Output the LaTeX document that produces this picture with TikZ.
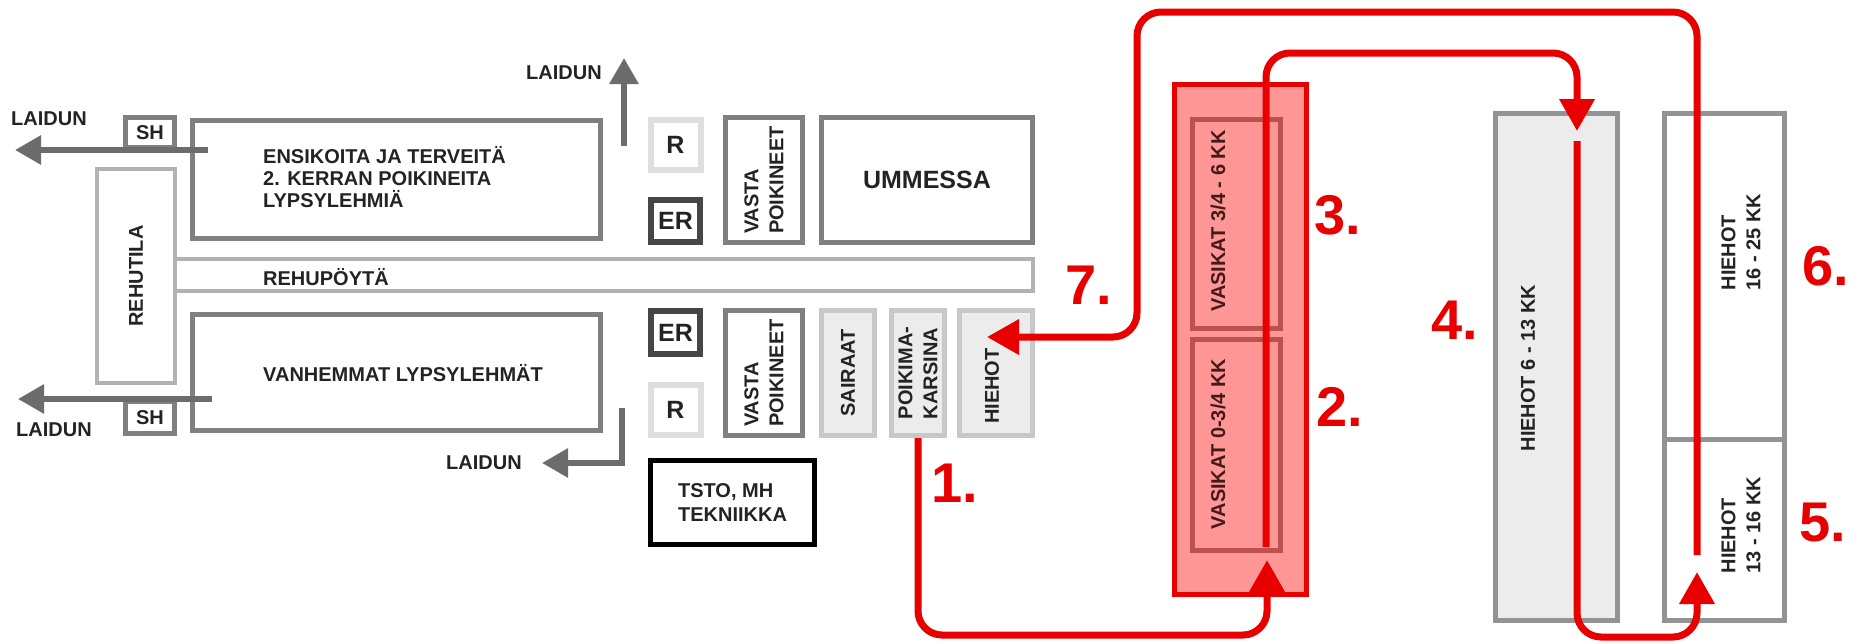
\documentclass[tikz,border=0pt]{standalone}
\usepackage{fontspec}
\setmainfont{Liberation Sans}
\usetikzlibrary{arrows.meta,positioning}

\definecolor{ink}{RGB}{35,35,35}
\definecolor{wallgray}{RGB}{128,128,128}
\definecolor{feedgray}{RGB}{178,178,178}
\definecolor{palegray}{RGB}{222,222,222}
\definecolor{ergray}{RGB}{70,70,70}
\definecolor{pengray}{RGB}{200,200,200}
\definecolor{penfill}{RGB}{236,236,236}
\definecolor{arrowgray}{RGB}{108,108,108}
\definecolor{routered}{RGB}{232,0,0}
\definecolor{calffill}{RGB}{255,150,150}
\definecolor{calfwall}{RGB}{190,80,80}
\definecolor{calfink}{RGB}{70,25,25}

\tikzstyle{wall} = [rectangle, draw=wallgray, line width=5pt, inner sep=0pt, text=ink, align=left, font=\bfseries\fontsize{20}{25}\selectfont]
\tikzstyle{feed} = [rectangle, draw=feedgray, line width=4pt, inner sep=0pt, text=ink, font=\bfseries\fontsize{20}{22}\selectfont]
\tikzstyle{rbox} = [rectangle, draw=palegray, line width=6pt, inner sep=0pt, text=ink, font=\bfseries\fontsize{25}{28}\selectfont]
\tikzstyle{erbox} = [rbox, draw=ergray]
\tikzstyle{sick} = [wall, draw=pengray, fill=penfill]
\tikzstyle{calf} = [rectangle, draw=calfwall, line width=5pt, inner sep=0pt]
\tikzstyle{txt} = [inner sep=0pt, text=ink, align=left, font=\bfseries\fontsize{20}{22}\selectfont]
\tikzstyle{calftxt} = [inner sep=0pt, text=calfink, align=left, font=\bfseries\fontsize{20}{25}\selectfont]
\tikzstyle{num} = [inner sep=0pt, text=routered, font=\bfseries\fontsize{56}{60}\selectfont]
\tikzstyle{exit} = [draw=arrowgray, line width=6pt, -{Triangle[length=26pt,width=28pt]}]
\tikzstyle{route} = [draw=routered, line width=7pt, rounded corners=24pt, -{Triangle[length=32pt,width=34pt]}]

\begin{document}
\begin{tikzpicture}[x=1pt, y=-1pt]
    \useasboundingbox (0,0) rectangle (1866,643);

    % navetta
    \node (cows1) [wall, minimum width=408pt, minimum height=118pt] at (396.5,179.5) {};
    \node (cows1txt) [txt, anchor=west] at (263,177) {ENSIKOITA JA TERVEITÄ\\2. KERRAN POIKINEITA\\LYPSYLEHMIÄ};
    \node (cows2) [wall, minimum width=408pt, minimum height=116pt] at (396.5,372.5) {};
    \node (cows2txt) [txt, anchor=west] at (263,373) {VANHEMMAT LYPSYLEHMÄT};
    \node (sh1) [wall, minimum width=49pt, minimum height=30pt] at (150,132.5) {SH};
    \node (sh2) [wall, minimum width=49pt, minimum height=32pt] at (150,417.5) {SH};
    \node (feedroom) [feed, rotate=90, minimum width=214pt, minimum height=78pt] at (136,276) {REHUTILA};
    \node (feedtable) [feed, minimum width=858pt, minimum height=32pt] at (604,275) {};
    \node (feedtxt) [txt, anchor=west] at (263,277) {REHUPÖYTÄ};

    \node (rtop) [rbox, minimum width=50pt, minimum height=50pt] at (675.5,144.5) {R};
    \node (ertop) [erbox, minimum width=49pt, minimum height=42pt] at (675.5,221) {ER};
    \node (vasta1) [wall, rotate=90, minimum width=125pt, minimum height=77pt] at (764,180) {VASTA\\POIKINEET};
    \node (dry) [wall, minimum width=211pt, minimum height=125pt, font=\bfseries\fontsize{25}{28}\selectfont] at (927,180) {UMMESSA};
    \node (erbot) [erbox, minimum width=49pt, minimum height=43pt] at (675.5,332.5) {ER};
    \node (rbot) [rbox, minimum width=50pt, minimum height=50pt] at (675.5,409.5) {R};
    \node (vasta2) [wall, rotate=90, minimum width=125pt, minimum height=77pt] at (764,373) {VASTA\\POIKINEET};
    \node (sairaat) [sick, rotate=90, minimum width=125pt, minimum height=53pt] at (848,373) {SAIRAAT};
    \node (poik) [sick, rotate=90, minimum width=125pt, minimum height=53pt] at (918,373) {POIKIMA-\\KARSINA};
    \node (hiehot0) [sick, rotate=90, minimum width=125pt, minimum height=73pt] at (996,373) {};
    \node (hiehot0txt) [txt, rotate=90] at (992,386) {HIEHOT};
    \node (office) [wall, draw=black, minimum width=164pt, minimum height=84pt, font=\bfseries\fontsize{20}{24}\selectfont] at (732.5,502.5) {TSTO, MH\\TEKNIIKKA};

    % laitumelle
    \node (laidun1) [txt] at (49,119) {LAIDUN};
    \node (laidun2) [txt] at (54,430) {LAIDUN};
    \node (laidun3) [txt] at (564,73) {LAIDUN};
    \node (laidun4) [txt] at (484,463) {LAIDUN};
    \coordinate (out1) at (208,150);
    \coordinate (end1) at (15,150);
    \coordinate (out2) at (212,399);
    \coordinate (end2) at (18,399);
    \coordinate (out3) at (624,146);
    \coordinate (end3) at (624,58);
    \coordinate (out4) at (622,408);
    \coordinate (end4) at (542,463);
    \draw [exit] (out1) -- (end1);
    \draw [exit] (out2) -- (end2);
    \draw [exit] (out3) -- (end3);
    \draw [exit] (out4) |- (end4);

    % vasikat ja hiehot
    \node (calves) [rectangle, draw=routered, fill=calffill, line width=5pt, minimum width=132pt, minimum height=510pt] at (1240.5,339.5) {};
    \node (calf2) [calf, minimum width=88pt, minimum height=209pt] at (1236.5,224) {};
    \node (calf1) [calf, minimum width=88pt, minimum height=211pt] at (1236.5,445) {};
    \node (calf2txt) [calftxt, rotate=90] at (1218,221) {VASIKAT 3/4 - 6 KK};
    \node (calf1txt) [calftxt, rotate=90] at (1218,444) {VASIKAT 0-3/4 KK};
    \node (heifer1) [wall, fill=penfill, draw=wallgray!85, minimum width=122pt, minimum height=507pt] at (1556.5,367) {};
    \node (heifer1txt) [txt, rotate=90] at (1528,368) {HIEHOT 6 - 13 KK};
    \node (heifer3) [wall, draw=wallgray!85, minimum width=120pt, minimum height=325.5pt] at (1724.5,276.25) {};
    \node (heifer2) [wall, draw=wallgray!85, minimum width=120pt, minimum height=181.5pt] at (1724.5,529.75) {};
    \node (heifer3txt) [txt, rotate=90, font=\bfseries\fontsize{20}{25}\selectfont] at (1741,242) {HIEHOT\\16 - 25 KK};
    \node (heifer2txt) [txt, rotate=90, font=\bfseries\fontsize{20}{25}\selectfont] at (1741,525) {HIEHOT\\13 - 16 KK};

    \node (n1) [num] at (955,483) {1.};
    \node (n2) [num] at (1340,407) {2.};
    \node (n3) [num] at (1338,215) {3.};
    \node (n4) [num] at (1455,320) {4.};
    \node (n5) [num] at (1823,523) {5.};
    \node (n6) [num] at (1826,266) {6.};
    \node (n7) [num] at (1089,285) {7.};

    % eläinten reitti
    \coordinate (in1) at (1267,560);
    \coordinate (from2) at (1266,547);
    \coordinate (in4) at (1577,131);
    \coordinate (from4) at (1577,141);
    \coordinate (in5) at (1697,572);
    \coordinate (from5) at (1697,555);
    \coordinate (in7) at (987,337);
    \draw [route] (poik.west) |- (1267,635) -- (in1);
    \draw [route] (from2) |- (1577,53) -- (in4);
    \draw [route] (from4) |- (1697,637) -- (in5);
    \draw [route] (from5) |- (1137,12) |- (in7);
\end{tikzpicture}
\end{document}
